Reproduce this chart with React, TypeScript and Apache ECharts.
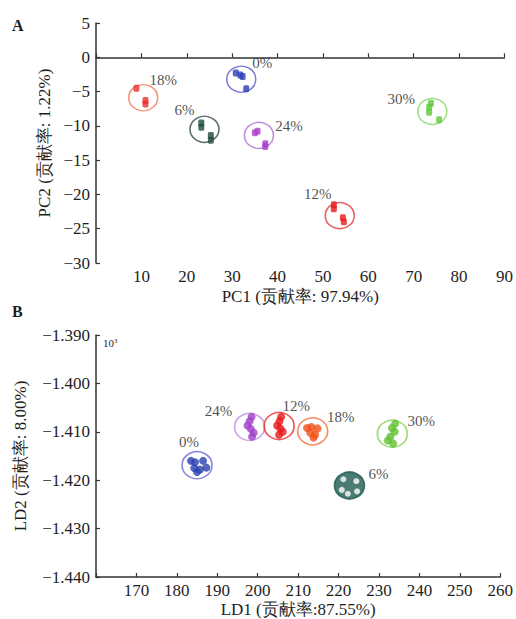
import React, { useEffect, useRef } from "react";
import * as echarts from "echarts";

// ---------- Panel A (PCA) ----------
const groupNames = ["0%", "18%", "6%", "24%", "12%", "30%"];
const pcaCenters: number[][] = [
  [32.0, -3.2], [10.4, -5.9], [23.9, -10.5], [35.9, -11.4], [53.7, -23.1], [74.1, -7.9],
];
const pcaPoints: number[][][] = [
  [[30.8, -2.3], [31.8, -2.6], [32.3, -2.8], [33.1, -4.6]],
  [[8.9, -4.5], [10.9, -6.3], [10.9, -6.8]],
  [[23.2, -9.6], [23.2, -10.2], [25.3, -11.4], [25.3, -12.1]],
  [[35.0, -11.0], [35.6, -10.8], [37.3, -12.6], [37.3, -13.0]],
  [[52.4, -21.5], [52.4, -22.1], [54.4, -23.4], [54.6, -24.0]],
  [[73.8, -6.7], [73.4, -7.3], [73.4, -8.0], [75.6, -9.1]],
];
const pcaXTicks = { min: 0, max: 90, interval: 10 };
const pcaYTicks = { min: -30, max: 5, interval: 5 };

// ---------- Panel B (LDA), y in units shown ×10³ ----------
const ldaNames = ["0%", "24%", "12%", "18%", "30%", "6%"];
const ldaCenters: number[][] = [
  [185.0, -1416.9], [198.0, -1409.0], [205.3, -1408.8], [213.6, -1409.9], [233.3, -1410.4], [222.7, -1421.1],
];
const ldaPoints: number[][][] = [
  [[183.5, -1416.0], [184.5, -1416.3], [186.5, -1416.0], [184.3, -1417.5], [185.7, -1417.8], [187.3, -1417.4], [185.0, -1418.3]],
  [[198.5, -1406.9], [198.0, -1407.8], [197.5, -1408.7], [198.3, -1409.4], [199.0, -1410.2], [198.6, -1411.0]],
  [[205.8, -1406.9], [205.4, -1407.8], [204.8, -1408.7], [205.6, -1409.3], [206.2, -1410.0], [205.3, -1410.6]],
  [[212.2, -1409.2], [213.3, -1409.0], [214.8, -1409.3], [213.0, -1410.2], [214.2, -1410.6], [213.8, -1411.2]],
  [[234.0, -1408.3], [233.2, -1409.2], [233.9, -1410.0], [232.8, -1411.0], [232.2, -1411.8], [233.5, -1412.4]],
  [[221.2, -1419.8], [224.4, -1420.2], [220.8, -1422.0], [222.3, -1422.8], [224.6, -1422.3]],
];
const ldaXTicks = { min: 160, max: 260, interval: 10 };
const ldaYTicks = { min: -1440, max: -1390, interval: 10 };

// ---------- styles ----------
const pcaRingColors = ["#5a5acc", "#f07a5a", "#2f4a44", "#b070d0", "#e03a3a", "#84d864"];
const pcaPointColors = ["#2a3fb8", "#e8302a", "#1f4a40", "#a83cc8", "#e41e1e", "#5cc838"];
const pcaLabelOffsets = [[21, -16], [20, -18], [-20, -19], [30, -9], [-22, -22], [-31, -12]];
const ldaRingColors = ["#6a6ad8", "#c090e0", "#e83030", "#f07040", "#84d456", "#1e5a50"];
const ldaPointColors = ["#2840b0", "#a040c8", "#e81818", "#f05018", "#60c030", "#ffffff"];
const ldaLabelOffsets = [[-8, -23], [-31, -16], [17, -20], [28, -14], [29, -13], [29, -12]];

const FONT = "'Liberation Serif', 'Times New Roman', serif";
const TXT = "#1e1e1e";

const minus = (s: string) => s.replace("-", "\u2212");

export default function App() {
  const ref = useRef<HTMLDivElement>(null);
  useEffect(() => {
    if (!ref.current) return;
    const chart = echarts.init(ref.current, undefined, { renderer: "svg" });

    const axisCommon = {
      axisLine: { lineStyle: { color: "#333", width: 1.5 } },
      axisTick: { inside: true, length: 4, lineStyle: { color: "#333", width: 1.2 } },
      splitLine: { show: false },
      nameTextStyle: { fontFamily: FONT, fontSize: 17, color: TXT },
    };

    const series: any[] = [];
    // Panel A
    pcaCenters.forEach((c, i) => {
      series.push({
        type: "scatter",
        xAxisIndex: 0,
        yAxisIndex: 0,
        symbol: "circle",
        symbolSize: [29, 26],
        z: 2,
        itemStyle: { color: "transparent", borderColor: pcaRingColors[i], borderWidth: 1.5 },
        label: {
          show: true,
          formatter: groupNames[i],
          position: "inside",
          offset: pcaLabelOffsets[i],
          fontFamily: FONT,
          fontSize: 15,
          color: TXT,
        },
        data: [c],
      });
      series.push({
        type: "scatter",
        xAxisIndex: 0,
        yAxisIndex: 0,
        symbol: "roundRect",
        symbolSize: [6, 7],
        z: 3,
        itemStyle: { color: pcaPointColors[i] },
        data: pcaPoints[i],
      });
    });
    // Panel B
    ldaCenters.forEach((c, i) => {
      const filled = i === 5;
      series.push({
        type: "scatter",
        xAxisIndex: 1,
        yAxisIndex: 1,
        symbol: "circle",
        symbolSize: [30, 27],
        z: 2,
        itemStyle: {
          color: filled ? ldaRingColors[i] : "transparent",
          borderColor: ldaRingColors[i],
          borderWidth: 1.6,
        },
        label: {
          show: true,
          formatter: ldaNames[i],
          position: "inside",
          offset: ldaLabelOffsets[i],
          fontFamily: FONT,
          fontSize: 15,
          color: TXT,
        },
        data: [c],
      });
      series.push({
        type: "scatter",
        xAxisIndex: 1,
        yAxisIndex: 1,
        symbol: "circle",
        symbolSize: filled ? 6 : 8,
        z: 3,
        itemStyle: { color: ldaPointColors[i] },
        data: ldaPoints[i],
      });
    });

    chart.setOption({
      animation: false,
      backgroundColor: "#ffffff",
      grid: [
        { left: 96, top: 23, right: 11, bottom: 356 },
        { left: 96, top: 335, right: 11, bottom: 42 },
      ],
      xAxis: [
        {
          ...axisCommon,
          gridIndex: 0,
          type: "value",
          ...pcaXTicks,
          name: "PC1 (贡献率: 97.94%)",
          nameLocation: "middle",
          nameGap: 25,
          axisLabel: {
            margin: 5,
            fontFamily: FONT,
            fontSize: 17,
            color: TXT,
            formatter: (v: number) => (v === pcaXTicks.min ? "" : minus(String(v))),
          },
        },
        {
          ...axisCommon,
          gridIndex: 1,
          type: "value",
          ...ldaXTicks,
          name: "LD1 (贡献率:87.55%)",
          nameLocation: "middle",
          nameGap: 24,
          axisLabel: {
            margin: 5,
            fontFamily: FONT,
            fontSize: 17,
            color: TXT,
            formatter: (v: number) => (v === ldaXTicks.min ? "" : String(v)),
          },
        },
      ],
      yAxis: [
        {
          ...axisCommon,
          gridIndex: 0,
          type: "value",
          ...pcaYTicks,
          name: "PC2 (贡献率: 1.22%)",
          nameLocation: "middle",
          nameGap: 40,
          axisLabel: {
            margin: 6,
            fontFamily: FONT,
            fontSize: 17,
            color: TXT,
            formatter: (v: number) => minus(String(v)),
          },
        },
        {
          ...axisCommon,
          gridIndex: 1,
          type: "value",
          ...ldaYTicks,
          name: "LD2 (贡献率: 8.00%)",
          nameLocation: "middle",
          nameGap: 67,
          axisLabel: {
            margin: 6,
            fontFamily: FONT,
            fontSize: 17,
            color: TXT,
            formatter: (v: number) => minus((v / 1000).toFixed(3)),
          },
        },
      ],
      graphic: [
        {
          type: "text",
          left: 12,
          top: 17,
          style: { text: "A", fontFamily: FONT, fontSize: 16, fontWeight: "bold", fill: TXT },
        },
        {
          type: "text",
          left: 12,
          top: 303,
          style: { text: "B", fontFamily: FONT, fontSize: 16, fontWeight: "bold", fill: TXT },
        },
        {
          type: "text",
          left: 103,
          top: 337,
          style: {
            text: "{b|10}{s|3}",
            rich: {
              b: { fontFamily: FONT, fontSize: 11, fill: TXT, verticalAlign: "bottom" },
              s: { fontFamily: FONT, fontSize: 7, fill: TXT, verticalAlign: "top" },
            },
          },
        },
      ],
      series,
    });
    return () => chart.dispose();
  }, []);

  return (
    <div
      ref={ref}
      style={{ position: "fixed", left: 0, top: 0, width: 516, height: 619, background: "#fff" }}
    />
  );
}
